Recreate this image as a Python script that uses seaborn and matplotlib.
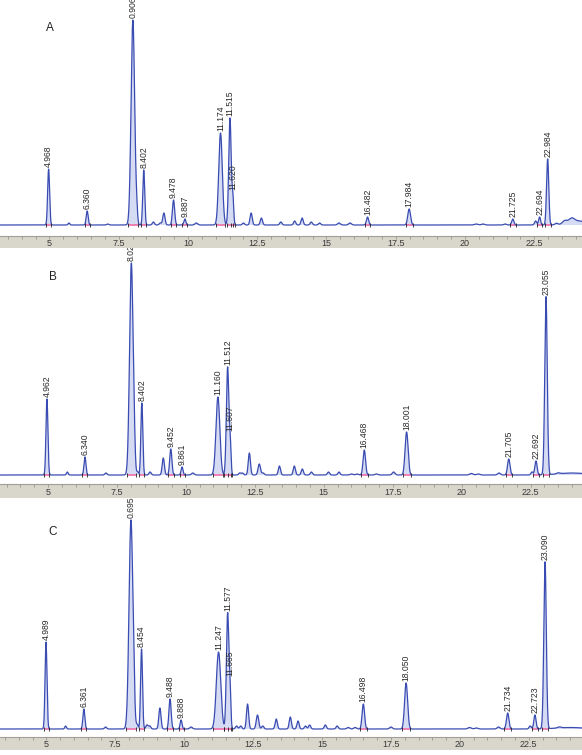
import numpy as np
import pandas as pd
import matplotlib
matplotlib.use('Agg')
import matplotlib.pyplot as plt
import seaborn as sns

sns.set_style('white')
plt.rcParams['font.family'] = ['Liberation Sans', 'DejaVu Sans']

# --- peak tables (retention time, height, width, label) ---
a_rt = [4.968, 5.70, 6.360, 7.10, 8.01, 8.15, 8.402, 8.75, 9.00, 9.13, 9.478, 9.887, 10.30,
        11.174, 11.515, 11.620, 12.00, 12.28, 12.65, 13.35, 13.85, 14.12, 14.45, 14.75,
        15.45, 15.85, 16.482, 17.984, 20.40, 20.65, 21.45, 21.725, 22.55, 22.694, 22.984,
        23.30, 23.60, 23.85, 24.10]
a_height = [56, 2, 14, 1, 205, 10, 55, 3, 2, 12, 25, 6, 2,
            92, 107, 26, 2, 12, 7, 3, 4, 7, 3, 2,
            2, 2, 8, 16, 1, 1, 1, 6, 4, 8, 66,
            1.5, 3, 4, 4]
a_width = [0.035, 0.03, 0.035, 0.04, 0.065, 0.03, 0.035, 0.04, 0.04, 0.04, 0.04, 0.035, 0.05,
           0.065, 0.045, 0.03, 0.04, 0.04, 0.04, 0.04, 0.04, 0.04, 0.04, 0.04,
           0.05, 0.05, 0.04, 0.05, 0.06, 0.06, 0.05, 0.04, 0.04, 0.035, 0.04,
           0.05, 0.08, 0.1, 0.35]
a_label = ['4.968', '', '6.360', '', '0.906', '', '8.402', '', '', '', '9.478', '9.887', '',
           '11.174', '11.515', '11.620', '', '', '', '', '', '', '', '',
           '', '', '16.482', '17.984', '', '', '', '21.725', '', '22.694', '22.984',
           '', '', '', '']

b_rt = [4.962, 5.70, 6.340, 7.10, 8.022, 8.13, 8.25, 8.402, 8.70, 9.18, 9.452, 9.861, 10.25,
        11.160, 11.512, 11.607, 11.95, 12.05, 12.30, 12.66, 12.80, 13.39, 13.93, 14.22, 14.55,
        15.17, 15.55, 16.00, 16.20, 16.468, 16.90, 17.53, 18.001, 20.35, 20.60, 21.35,
        21.705, 22.55, 22.692, 23.055, 23.50, 24.00]
b_height = [76, 3, 18, 2, 212, 14, 3, 72, 3, 17, 26, 8, 2,
            78, 108, 30, 2, 2, 22, 11, 2, 9, 9, 6, 3,
            3, 3, 1, 1, 25, 1, 3, 43, 1.5, 1, 2,
            16, 3, 14, 178, 1, 2]
b_width = [0.035, 0.03, 0.035, 0.04, 0.065, 0.03, 0.03, 0.035, 0.04, 0.04, 0.04, 0.035, 0.05,
           0.07, 0.045, 0.03, 0.04, 0.04, 0.04, 0.045, 0.04, 0.04, 0.04, 0.04, 0.04,
           0.04, 0.04, 0.05, 0.05, 0.045, 0.05, 0.05, 0.055, 0.06, 0.06, 0.05,
           0.045, 0.04, 0.04, 0.045, 0.06, 0.5]
b_label = ['4.962', '', '6.340', '', '8.022', '', '', '8.402', '', '', '9.452', '9.861', '',
           '11.160', '11.512', '11.607', '', '', '', '', '', '', '', '', '',
           '', '', '', '', '16.468', '', '', '18.001', '', '', '',
           '21.705', '', '22.692', '23.055', '', '']

c_rt = [4.989, 5.70, 6.361, 7.15, 8.07, 8.17, 8.30, 8.454, 8.65, 8.75, 9.12, 9.488, 9.888, 10.25,
        11.247, 11.577, 11.665, 11.90, 12.05, 12.30, 12.66, 12.85, 13.34, 13.85, 14.13, 14.40,
        14.55, 15.12, 15.55, 15.95, 16.20, 16.498, 17.50, 18.050, 20.35, 20.60, 21.40,
        21.734, 22.55, 22.723, 23.090, 23.60, 24.00]
c_height = [87, 3, 20, 2, 209, 19, 4, 80, 4, 3, 21, 30, 9, 2,
            77, 116, 34, 3, 3, 25, 14, 3, 10, 12, 8, 3,
            4, 4, 3, 1.5, 1.5, 25, 2, 46, 1.5, 1, 2,
            16, 3, 14, 167, 1, 1.5]
c_width = [0.035, 0.03, 0.035, 0.04, 0.07, 0.03, 0.03, 0.035, 0.04, 0.04, 0.04, 0.04, 0.035, 0.05,
           0.08, 0.045, 0.03, 0.04, 0.04, 0.04, 0.045, 0.04, 0.04, 0.04, 0.04, 0.04,
           0.04, 0.04, 0.04, 0.05, 0.05, 0.045, 0.05, 0.055, 0.06, 0.06, 0.05,
           0.045, 0.04, 0.04, 0.045, 0.06, 0.5]
c_label = ['4.989', '', '6.361', '', '0.695', '', '', '8.454', '', '', '', '9.488', '9.888', '',
           '11.247', '11.577', '11.665', '', '', '', '', '', '', '', '', '',
           '', '', '', '', '', '16.498', '', '18.050', '', '', '',
           '21.734', '', '22.723', '23.090', '', '']

major_ticks = [5, 7.5, 10, 12.5, 15, 17.5, 20, 22.5]
tick_text = ['5', '7.5', '10', '12.5', '15', '17.5', '20', '22.5']

panels = [
    dict(name='A', rt=a_rt, h=a_height, w=a_width, lab=a_label,
         xlim=(3.213, 24.224), ylim=(-11, 225), main=(0, 236), strip=(236, 248), letter=(50, 28)),
    dict(name='B', rt=b_rt, h=b_height, w=b_width, lab=b_label,
         xlim=(3.26, 24.36), ylim=(-9, 239), main=(236, 484), strip=(484, 498), letter=(53, 277)),
    dict(name='C', rt=c_rt, h=c_height, w=c_width, lab=c_label,
         xlim=(3.32, 24.43), ylim=(-8, 245), main=(484, 737), strip=(737, 750), letter=(53, 532)),
]

W, H = 582, 755
fig = plt.figure(figsize=(W / 100, H / 100), dpi=100)


def box(top, bottom):
    return [0, 1 - bottom / H, 1, (bottom - top) / H]


line_col = '#3a4cb2'
t = np.linspace(3.0, 24.6, 6000)

for p in panels:
    ax = fig.add_axes(box(*p['main']), zorder=1)
    ax.patch.set_alpha(0)
    rt = np.array(p['rt'])
    hh = np.array(p['h'], dtype=float)
    ww = np.array(p['w'])
    sig = (hh[:, None] * np.exp(-0.5 * ((t[None, :] - rt[:, None]) / ww[:, None]) ** 2)).sum(axis=0)
    df = pd.DataFrame({'time': t, 'signal': sig})
    ax.fill_between(t, 0, sig, color='#d6dbf4', lw=0, zorder=0)
    sns.lineplot(data=df, x='time', y='signal', ax=ax, color=line_col, linewidth=0.9,
                 estimator=None, sort=False)

    # integration baselines and peak labels
    for r, w, lab in zip(rt, ww, p['lab']):
        if not lab:
            continue
        x0, x1 = r - 2.6 * w, r + 2.6 * w
        ax.plot([x0, x1], [0.3, 0.3], color='#ee78b0', lw=1.3, solid_capstyle='butt', zorder=1)
        ax.plot([x0, x1], [0, 0], ls='none', marker='|', ms=2.5, mew=0.6, color='#222222')
        y = np.interp(r, t, sig)
        ax.text(r, y + 2, lab, rotation=90, ha='center', va='bottom', fontsize=6.2,
                color='#2a2a2a', clip_on=True)

    lx, ly = p['letter']
    fig.text(lx / W, 1 - ly / H, p['name'], fontsize=8.5, color='#222222',
             ha='center', va='center')
    ax.set_xlim(*p['xlim'])
    ax.set_ylim(*p['ylim'])
    ax.axis('off')

    # grey time strip, drawn above the traces
    sx = fig.add_axes(box(*p['strip']), zorder=3)
    sx.set_facecolor('#d9d6cc')
    sx.set_xlim(*p['xlim'])
    sx.set_ylim(0, 1)
    sx.set_yticks([])
    sx.set_xticks(major_ticks)
    sx.set_xticks(np.arange(3.5, 24.5, 0.5), minor=True)
    sx.tick_params(axis='x', which='both', top=True, bottom=False, direction='in',
                   length=2.5, width=0.5, color='#8c8a82', labelbottom=False, labeltop=False)
    for s in ['left', 'right', 'bottom']:
        sx.spines[s].set_visible(False)
    sx.spines['top'].set_color('#a09e96')
    sx.spines['top'].set_linewidth(0.8)
    for v, txt in zip(major_ticks, tick_text):
        sx.text(v, 0.4, txt, ha='center', va='center', fontsize=6.5, color='#3a3a3a')

fig.savefig('out.png', dpi=100, facecolor='white')
